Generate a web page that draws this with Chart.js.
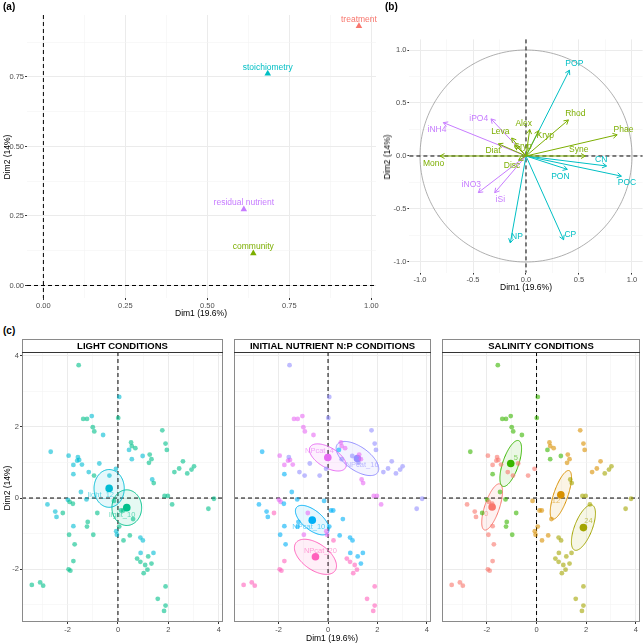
<!DOCTYPE html>
<html><head><meta charset="utf-8">
<script src="https://cdn.jsdelivr.net/npm/chart.js@4.4.1/dist/chart.umd.min.js"></script>
<style>
html,body{margin:0;padding:0;background:#fff;}
body{width:644px;height:644px;position:relative;overflow:hidden;font-family:"Liberation Sans",Arial,sans-serif;}
canvas{position:absolute;}
.t{position:absolute;white-space:nowrap;color:#000;font-size:8.5px;transform:translate(-50%,-50%);}
.r{transform:translate(-50%,-50%) rotate(-90deg);}
.p{position:absolute;font-weight:bold;font-size:10px;color:#000;}
</style></head>
<body>
<canvas id="ca" width="380" height="320" style="left:0;top:0"></canvas>
<canvas id="cb" width="264" height="300" style="left:380px;top:0"></canvas>
<canvas id="c1" width="227" height="300" style="left:0;top:336px"></canvas>
<canvas id="c2" width="205" height="300" style="left:230px;top:336px"></canvas>
<canvas id="c3" width="206" height="300" style="left:438px;top:336px"></canvas>
<div class="p" style="left:3px;top:1px">(a)</div>
<div class="p" style="left:385px;top:1px">(b)</div>
<div class="p" style="left:3px;top:325px">(c)</div>
<div class="t r" style="left:7px;top:157px">Dim2 (14%)</div>
<div class="t" style="left:201px;top:313px">Dim1 (19.6%)</div>
<div class="t r" style="left:387px;top:157px">Dim2 (14%)</div>
<div class="t" style="left:526px;top:287px">Dim1 (19.6%)</div>
<div class="t r" style="left:7px;top:488px">Dim2 (14%)</div>
<div class="t" style="left:332px;top:638px">Dim1 (19.6%)</div>
<script>
// ---------------- Panel (a): variable groups ----------------
const aLabels = ['treatment', 'stoichiometry', 'residual nutrient', 'community'];
const aDim1 = [0.962, 0.684, 0.611, 0.640];
const aDim2 = [0.933, 0.762, 0.274, 0.116];
const aTicks = [0, 0.25, 0.5, 0.75, 1.0];

// ---------------- Panel (b): variables ----------------
const varNames = ['POP','CN','POC','PON','CP','NP','iNH4','iPO4','iNO3','iSi','Mono','Diat','Leva','Alex','Kryp','Rhod','Phae','Syne','Disc','Cryp'];
const varGroup = ['stoichiometry','stoichiometry','stoichiometry','stoichiometry','stoichiometry','stoichiometry',
  'residual nutrient','residual nutrient','residual nutrient','residual nutrient',
  'community','community','community','community','community','community','community','community','community','community'];
const varDim1 = [0.41, 0.76, 0.90, 0.39, 0.355, -0.148, -0.78, -0.33, -0.45, -0.295, -0.81, -0.26, -0.135, 0.035, 0.12, 0.40, 0.86, 0.56, -0.07, -0.10];
const varDim2 = [0.81, -0.094, -0.19, -0.126, -0.79, -0.82, 0.315, 0.35, -0.345, -0.346, 0.0, 0.115, 0.17, 0.25, 0.24, 0.34, 0.20, 0.0, -0.04, 0.10];
const varLabelDim1 = [0.456, 0.71, 0.953, 0.324, 0.418, -0.085, -0.84, -0.446, -0.516, -0.242, -0.871, -0.311, -0.242, -0.022, 0.182, 0.465, 0.92, 0.497, -0.132, -0.03];
const varLabelDim2 = [0.875, -0.038, -0.25, -0.195, -0.739, -0.761, 0.25, 0.349, -0.274, -0.415, -0.069, 0.047, 0.229, 0.308, 0.189, 0.396, 0.25, 0.057, -0.092, 0.085];
const bTicks = [-1, -0.5, 0, 0.5, 1];

// ---------------- Panel (c): individuals ----------------
const indDim1 = [-1.56,0.05,0.01,-1.38,-1.23,-1.04,-1.00,-0.94,-0.59,1.76,
 -2.67,0.52,0.55,0.69,0.44,1.89,1.94,0.98,1.26,1.33,
 1.23,0.55,-1.96,-1.59,-1.62,-1.54,-1.77,-1.43,-0.74,2.58,
 2.43,2.24,2.75,2.92,3.02,-0.08,-1.16,-0.95,-1.77,-0.34,
 1.36,1.42,-1.47,1.85,1.98,3.81,-1.99,-1.92,-1.79,-1.25,
 -0.16,-2.80,2.15,3.59,0.12,0.21,0.60,-2.49,-2.19,-2.44,
 -0.82,-1.20,-1.23,-1.77,0.05,-0.07,-0.04,-1.94,-0.98,0.47,
 0.22,0.89,0.99,-1.72,0.90,1.41,1.20,0.76,0.89,1.08,
 1.33,1.17,1.02,-1.77,-1.96,-1.89,-3.42,-3.09,-2.97,1.89,
 1.58,1.89,1.83];
const indDim2 = [3.73,2.84,2.25,2.22,2.22,2.30,1.99,1.87,1.77,1.90,
 1.30,1.56,1.46,1.40,1.35,1.53,1.35,1.18,1.22,1.09,
 0.99,1.09,1.19,1.15,1.05,1.07,0.93,0.94,0.97,1.03,
 0.83,0.73,0.69,0.80,0.89,0.82,0.73,0.63,0.67,0.63,
 0.52,0.42,0.17,0.06,0.06,-0.02,-0.05,-0.11,-0.16,-0.04,
 -0.08,-0.18,-0.18,-0.30,-0.35,-0.35,-0.59,-0.38,-0.42,-0.53,
 -0.42,-0.67,-0.80,-0.79,-0.80,-0.93,-1.03,-1.03,-1.03,-1.05,
 -1.19,-1.11,-1.19,-1.30,-1.54,-1.54,-1.64,-1.70,-1.79,-1.88,
 -1.84,-2.01,-2.11,-1.77,-2.00,-2.04,-2.44,-2.37,-2.46,-2.48,
 -2.83,-3.02,-3.17];
const lightGroup = [10,12,10,10,10,12,10,10,12,10,
 12,10,10,10,12,10,10,12,10,10,
 10,12,12,12,12,12,12,12,12,10,
 10,10,10,10,10,12,12,10,12,12,
 12,10,12,10,10,10,12,10,10,12,
 10,12,10,10,10,10,10,12,10,12,
 10,10,10,12,10,12,12,10,10,10,
 10,12,12,10,12,12,10,10,10,10,
 10,10,10,10,10,10,10,10,10,10,
 10,10,10];
const npGroup = [16,16,16,4,4,4,4,4,4,16,
 10,4,4,4,10,16,16,16,4,4,
 16,16,4,16,4,4,4,4,16,16,
 16,16,16,16,16,16,16,16,10,16,
 4,4,10,4,4,16,4,4,10,10,
 10,10,4,16,10,10,10,10,20,10,
 4,10,10,10,10,4,4,10,4,10,
 20,10,10,10,10,10,10,20,20,20,
 10,20,20,20,20,20,20,20,20,20,
 20,20,20];
const salGroup = [5,5,5,5,5,5,5,5,5,12,
 5,12,12,12,5,12,12,5,12,12,
 12,5,0,0,0,0,0,0,0,12,
 12,12,24,24,24,0,0,0,5,0,
 24,24,5,24,24,24,5,0,0,5,
 12,0,24,24,12,12,12,0,5,0,
 5,5,5,0,12,12,12,0,5,12,
 12,24,24,0,24,24,24,24,24,24,
 24,24,24,0,0,0,0,0,0,24,
 24,24,24];

const lightLevels = [10, 12];
const lightNames = ['light_10', 'light_12'];
const lightCenDim1 = [0.35, -0.35], lightCenDim2 = [-0.27, 0.27];
const lightEllA = [0.59, 0.60], lightEllB = [0.50, 0.53], lightEllAng = [0, 0];
const lightLabDim1 = [0.17, -0.68], lightLabDim2 = [-0.48, 0.08];

const npLevels = [10, 16, 20, 4];
const npNames = ['NPcat_10', 'NPcat_16', 'NPcat_20', 'NPcat_4'];
const npCenDim1 = [-0.64, 1.19, -0.51, -0.01], npCenDim2 = [-0.62, 1.11, -1.65, 1.14];
const npEllA = [0.74, 0.92, 0.90, 0.78], npEllB = [0.30, 0.36, 0.40, 0.30], npEllAng = [-25, -22, -21, -19];
const npLabDim1 = [-0.78, 1.38, -0.31, -0.35], npLabDim2 = [-0.81, 0.93, -1.49, 1.32];

const salLevels = [0, 5, 12, 24];
const salNames = ['0', '5', '12', '24'];
const salCenDim1 = [-1.79, -1.04, 0.98, 1.89], salCenDim2 = [-0.25, 0.97, 0.09, -0.83];
const salEllA = [0.72, 0.72, 0.76, 0.73], salEllB = [0.28, 0.30, 0.27, 0.33], salEllAng = [62, 61, 62, 57];
const salLabDim1 = [-2.02, -0.83, 0.78, 2.09], salLabDim2 = [-0.44, 1.13, -0.09, -0.64];

const cTicks = [-3, -2, -1, 0, 1, 2, 3, 4];
const cMajor = [-2, 0, 2, 4];

// ---------------- styling ----------------
const FONT = '"Liberation Sans", Arial, sans-serif';
Chart.defaults.font.family = FONT;
const groupColor = {'treatment':'#F8766D','stoichiometry':'#00BFC4','residual nutrient':'#C77CFF','community':'#7CAE00'};
const lightColors = ['#00C08B', '#00BCD4'];
const npColors = ['#00B0F6', '#9590FF', '#FF62BC', '#E76BF3'];
const salColors = ['#F8766D', '#39B600', '#D89000', '#A3A500'];

function rgba(hex, a) {
  const n = parseInt(hex.slice(1), 16);
  return `rgba(${(n>>16)&255},${(n>>8)&255},${n&255},${a})`;
}
const near = (arr, v) => arr.some(m => Math.abs(m - v) < 1e-9);

function axis(min, max, ticks, majors, size, showLabels, fmt, tickLen) {
  return {
    type: 'linear', min, max,
    afterBuildTicks: s => { s.ticks = ticks.filter(v => v >= min && v <= max).map(v => ({value: v})); },
    afterFit: s => { if (s.isHorizontal()) s.height = size; else s.width = size; },
    border: {display: false},
    grid: {
      color: c => near(majors, c.tick.value) ? '#EBEBEB' : '#F4F4F4',
      lineWidth: c => near(majors, c.tick.value) ? 1 : 0.6,
      tickColor: c => (showLabels && near(majors, c.tick.value)) ? '#333333' : 'rgba(0,0,0,0)',
      tickLength: tickLen, drawTicks: true
    },
    ticks: {
      display: showLabels, autoSkip: false, maxRotation: 0, minRotation: 0, padding: 1,
      color: '#4D4D4D', font: {family: FONT, size: 7.5},
      callback: v => near(majors, v) ? fmt(v) : ''
    }
  };
}

function dashedZero(ctx, ch) {
  const a = ch.chartArea, x0 = ch.scales.x.getPixelForValue(0), y0 = ch.scales.y.getPixelForValue(0);
  ctx.save();
  ctx.strokeStyle = '#000'; ctx.lineWidth = 1; ctx.setLineDash([4, 3]);
  ctx.beginPath(); ctx.moveTo(a.left, y0); ctx.lineTo(a.right, y0); ctx.stroke();
  ctx.beginPath(); ctx.moveTo(x0, a.top); ctx.lineTo(x0, a.bottom); ctx.stroke();
  ctx.restore();
}

const baseOpts = (pad, sx, sy) => ({
  responsive: false, animation: false, events: [],
  layout: {padding: pad},
  plugins: {legend: {display: false}, tooltip: {enabled: false}},
  scales: {x: sx, y: sy}
});

// ---------------- Chart (a) ----------------
new Chart(document.getElementById('ca'), {
  type: 'scatter',
  data: {datasets: [{
    data: aDim1.map((x, i) => ({x, y: aDim2[i]})),
    pointStyle: 'triangle', pointRadius: 3.8,
    backgroundColor: aLabels.map(l => groupColor[l]), borderColor: aLabels.map(l => groupColor[l]), borderWidth: 0
  }]},
  options: baseOpts({left: 0, right: 4, top: 15, bottom: 0},
    axis(-0.05, 1.014, [0,0.125,0.25,0.375,0.5,0.625,0.75,0.875,1.0], aTicks, 22, true, v => v.toFixed(2), 2),
    axis(-0.045, 0.973, [0,0.125,0.25,0.375,0.5,0.625,0.75,0.875,1.0], aTicks, 27, true, v => v.toFixed(2), 2)),
  plugins: [{
    id: 'aDeco',
    beforeDatasetsDraw(ch) { dashedZero(ch.ctx, ch); },
    afterDatasetsDraw(ch) {
      const ctx = ch.ctx;
      ctx.save(); ctx.font = '8.5px ' + FONT; ctx.textAlign = 'center'; ctx.textBaseline = 'middle';
      aLabels.forEach((l, i) => {
        ctx.fillStyle = groupColor[l];
        ctx.fillText(l, ch.scales.x.getPixelForValue(aDim1[i]), ch.scales.y.getPixelForValue(aDim2[i]) - 6.5);
      });
      ctx.restore();
    }
  }]
});

// ---------------- Chart (b) ----------------
new Chart(document.getElementById('cb'), {
  type: 'scatter',
  data: {datasets: [{data: varDim1.map((x, i) => ({x, y: varDim2[i]})), pointRadius: 0}]},
  options: baseOpts({left: 0, right: 1.4, top: 39.4, bottom: 0},
    axis(-1.1, 1.1, [-1,-0.75,-0.5,-0.25,0,0.25,0.5,0.75,1], bTicks, 27.4, true, v => v.toFixed(1), 2),
    axis(-1.1, 1.1, [-1,-0.75,-0.5,-0.25,0,0.25,0.5,0.75,1], bTicks, 29.4, true, v => v.toFixed(1), 2)),
  plugins: [{
    id: 'bDeco',
    beforeDatasetsDraw(ch) {
      const ctx = ch.ctx, sx = ch.scales.x, sy = ch.scales.y;
      // correlation circle
      ctx.save(); ctx.strokeStyle = '#9A9A9A'; ctx.lineWidth = 0.8; ctx.beginPath();
      for (let k = 0; k <= 240; k++) {
        const t = k / 240 * Math.PI * 2;
        const px = sx.getPixelForValue(Math.cos(t)), py = sy.getPixelForValue(Math.sin(t));
        if (k === 0) ctx.moveTo(px, py); else ctx.lineTo(px, py);
      }
      ctx.stroke(); ctx.restore();
      dashedZero(ctx, ch);
    },
    afterDatasetsDraw(ch) {
      const ctx = ch.ctx, sx = ch.scales.x, sy = ch.scales.y;
      const ox = sx.getPixelForValue(0), oy = sy.getPixelForValue(0);
      ctx.save(); ctx.lineWidth = 1;
      varNames.forEach((n, i) => {
        const col = groupColor[varGroup[i]];
        const tx = sx.getPixelForValue(varDim1[i]), ty = sy.getPixelForValue(varDim2[i]);
        ctx.strokeStyle = col;
        ctx.beginPath(); ctx.moveTo(ox, oy); ctx.lineTo(tx, ty); ctx.stroke();
        const ang = Math.atan2(ty - oy, tx - ox), L = 5, w = Math.PI / 6;
        ctx.beginPath();
        ctx.moveTo(tx - L * Math.cos(ang - w), ty - L * Math.sin(ang - w));
        ctx.lineTo(tx, ty);
        ctx.lineTo(tx - L * Math.cos(ang + w), ty - L * Math.sin(ang + w));
        ctx.stroke();
      });
      ctx.font = '8.5px ' + FONT; ctx.textAlign = 'center'; ctx.textBaseline = 'middle';
      varNames.forEach((n, i) => {
        ctx.fillStyle = groupColor[varGroup[i]];
        ctx.fillText(n, sx.getPixelForValue(varLabelDim1[i]), sy.getPixelForValue(varLabelDim2[i]));
      });
      ctx.restore();
    }
  }]
});

// ---------------- Facets (c) ----------------
function makeFacet(id, strip, groups, levels, names, colors, cx, cy, ea, eb, eang, lx, ly, showY, padRight) {
  const datasets = levels.map((lv, k) => ({
    data: indDim1.map((x, i) => ({x, y: indDim2[i], g: groups[i]})).filter(p => p.g === lv),
    backgroundColor: rgba(colors[k], 0.6), borderWidth: 0, pointRadius: 2.4
  }));
  datasets.push({data: cx.map((x, k) => ({x, y: cy[k]})), backgroundColor: colors, borderWidth: 0, pointRadius: 3.8});
  const yAx = axis(-3.48, 4.1, cTicks, cMajor, showY ? 22 : 0, showY, v => String(v), showY ? 2 : 0);
  if (!showY) yAx.grid.drawTicks = false;
  new Chart(document.getElementById(id), {
    type: 'scatter',
    data: {datasets},
    options: baseOpts({left: 0, right: padRight, top: 16, bottom: 0},
      axis(-3.81, 4.17, cTicks, cMajor, 14, true, v => String(v), 2), yAx),
    plugins: [{
      id: 'facet' + id,
      beforeDatasetsDraw(ch) {
        const ctx = ch.ctx, sx = ch.scales.x, sy = ch.scales.y, a = ch.chartArea;
        ctx.save(); ctx.beginPath(); ctx.rect(a.left, a.top, a.right - a.left, a.bottom - a.top); ctx.clip();
        dashedZero(ctx, ch);
        levels.forEach((lv, k) => {
          const th = eang[k] * Math.PI / 180;
          ctx.beginPath();
          for (let s = 0; s <= 120; s++) {
            const t = s / 120 * Math.PI * 2;
            const dx = ea[k] * Math.cos(t), dy = eb[k] * Math.sin(t);
            const X = cx[k] + dx * Math.cos(th) - dy * Math.sin(th);
            const Y = cy[k] + dx * Math.sin(th) + dy * Math.cos(th);
            const px = sx.getPixelForValue(X), py = sy.getPixelForValue(Y);
            if (s === 0) ctx.moveTo(px, py); else ctx.lineTo(px, py);
          }
          ctx.closePath();
          ctx.fillStyle = rgba(colors[k], 0.1); ctx.fill();
          ctx.strokeStyle = colors[k]; ctx.lineWidth = 1; ctx.stroke();
        });
        ctx.restore();
      },
      afterDatasetsDraw(ch) {
        const ctx = ch.ctx, sx = ch.scales.x, sy = ch.scales.y;
        ctx.save(); ctx.font = '7.5px ' + FONT; ctx.textAlign = 'center'; ctx.textBaseline = 'middle';
        names.forEach((n, k) => {
          ctx.fillStyle = rgba(colors[k], 0.6);
          ctx.fillText(n, sx.getPixelForValue(lx[k]), sy.getPixelForValue(ly[k]));
        });
        ctx.restore();
      },
      afterDraw(ch) {
        const ctx = ch.ctx, a = ch.chartArea;
        ctx.save();
        ctx.fillStyle = '#FFFFFF'; ctx.fillRect(a.left, a.top - 13, a.right - a.left, 13);
        ctx.strokeStyle = '#8A8A8A'; ctx.lineWidth = 1;
        ctx.strokeRect(a.left + 0.5, a.top - 12.5, a.right - a.left - 1, a.bottom - a.top + 12);
        ctx.strokeStyle = '#333333';
        ctx.beginPath(); ctx.moveTo(a.left, a.top + 0.5); ctx.lineTo(a.right, a.top + 0.5); ctx.stroke();
        ctx.fillStyle = '#000'; ctx.font = 'bold 9.5px ' + FONT; ctx.textAlign = 'center'; ctx.textBaseline = 'middle';
        ctx.fillText(strip, (a.left + a.right) / 2, a.top - 6);
        ctx.restore();
      }
    }]
  });
}

makeFacet('c1', 'LIGHT CONDITIONS', lightGroup, lightLevels, lightNames, lightColors,
  lightCenDim1, lightCenDim2, lightEllA, lightEllB, lightEllAng, lightLabDim1, lightLabDim2, true, 1);
makeFacet('c2', 'INITIAL NUTRIENT N:P CONDITIONS', npGroup, npLevels, npNames, npColors,
  npCenDim1, npCenDim2, npEllA, npEllB, npEllAng, npLabDim1, npLabDim2, false, 1);
makeFacet('c3', 'SALINITY CONDITIONS', salGroup, salLevels, salNames, salColors,
  salCenDim1, salCenDim2, salEllA, salEllB, salEllAng, salLabDim1, salLabDim2, false, 2);
</script>
</body></html>
